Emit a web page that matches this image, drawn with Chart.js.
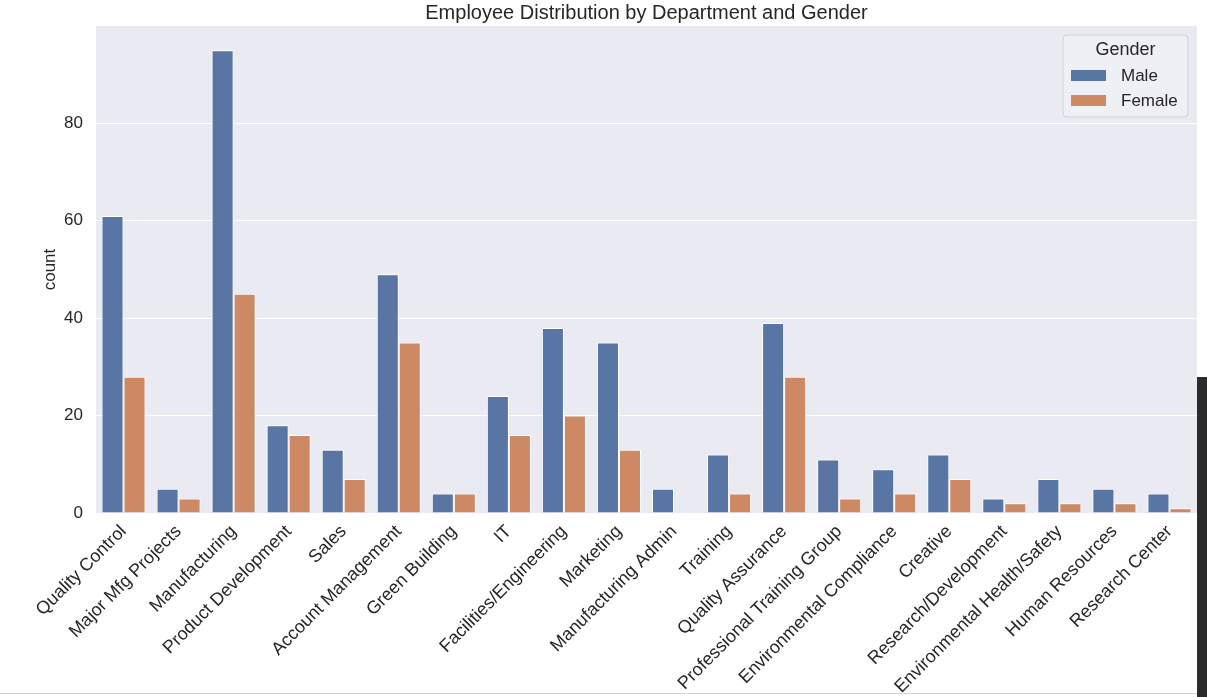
<!DOCTYPE html>
<html>
<head>
<meta charset="utf-8">
<script src="https://cdn.jsdelivr.net/npm/chart.js@4.4.1/dist/chart.umd.min.js"></script>
<style>
  html, body { margin: 0; padding: 0; background: #fff; }
  #wrap { position: relative; width: 1207px; height: 697px; overflow: hidden; }
  #edge { position: absolute; left: 1197px; top: 377px; width: 10px; height: 320px; background: #2b2b2b; }
  #rule { position: absolute; left: 0; top: 693px; width: 1197px; height: 1px; background: #d4d4d4; }
</style>
</head>
<body>
<div id="wrap">
  <canvas id="chart" width="1207" height="697"></canvas>
  <div id="rule"></div>
  <div id="edge"></div>
</div>
<script>
const departments = [
  'Quality Control', 'Major Mfg Projects', 'Manufacturing', 'Product Development', 'Sales',
  'Account Management', 'Green Building', 'IT', 'Facilities/Engineering', 'Marketing',
  'Manufacturing Admin', 'Training', 'Quality Assurance', 'Professional Training Group',
  'Environmental Compliance', 'Creative', 'Research/Development', 'Environmental Health/Safety',
  'Human Resources', 'Research Center'
];
const maleCounts = [61, 5, 95, 18, 13, 49, 4, 24, 38, 35, 5, 12, 39, 11, 9, 12, 3, 7, 5, 4];
const femaleCounts = [28, 3, 45, 16, 7, 35, 4, 16, 20, 13, 0, 4, 28, 3, 4, 7, 2, 2, 2, 1];
const yTicks = [0, 20, 40, 60, 80];

const FONT = '"Liberation Sans", Arial, sans-serif';
const TEXT = '#262626';

// fond gris + titre + legende
const seabornLook = {
  id: 'seabornLook',
  beforeDraw(chart) {
    const { ctx, chartArea: a } = chart;
    ctx.save();
    ctx.fillStyle = '#eaeaf2';
    ctx.fillRect(a.left, a.top, a.right - a.left, a.bottom - a.top);
    ctx.restore();
  },
  afterDraw(chart) {
    const { ctx, chartArea: a } = chart;
    ctx.save();
    ctx.fillStyle = TEXT;
    ctx.font = '20px ' + FONT;
    ctx.textAlign = 'center';
    ctx.textBaseline = 'middle';
    ctx.fillText('Employee Distribution by Department and Gender', (a.left + a.right) / 2, 13);

    const w = 125, h = 82;
    const x = a.right - 9 - w, y = a.top + 9;
    ctx.beginPath();
    ctx.roundRect(x, y, w, h, 4);
    ctx.fillStyle = 'rgba(240,240,246,0.9)';
    ctx.fill();
    ctx.strokeStyle = '#d0d0d8';
    ctx.lineWidth = 1;
    ctx.stroke();

    ctx.fillStyle = TEXT;
    ctx.font = '18px ' + FONT;
    ctx.fillText('Gender', x + w / 2, y + 15);
    ctx.textAlign = 'left';
    ctx.font = '17px ' + FONT;
    chart.data.datasets.forEach((ds, i) => {
      const ry = y + 40 + i * 25;
      ctx.fillStyle = ds.backgroundColor;
      ctx.fillRect(x + 8, ry - 5, 35, 11);
      ctx.fillStyle = TEXT;
      ctx.fillText(ds.label, x + 58, ry + 1);
    });
    ctx.restore();
  }
};

new Chart(document.getElementById('chart'), {
  type: 'bar',
  data: {
    labels: departments,
    datasets: [
      { label: 'Male', data: maleCounts, backgroundColor: '#5875a4', borderColor: '#ffffff', borderWidth: 1 },
      { label: 'Female', data: femaleCounts, backgroundColor: '#cc8963', borderColor: '#ffffff', borderWidth: 1 }
    ]
  },
  options: {
    responsive: false,
    animation: false,
    devicePixelRatio: 1,
    layout: { padding: { top: 26, right: 10, left: 40, bottom: 0 } },
    datasets: { bar: { categoryPercentage: 0.8, barPercentage: 1.0 } },
    plugins: { legend: { display: false }, title: { display: false }, tooltip: { enabled: false } },
    scales: {
      x: {
        grid: { display: false },
        border: { display: false },
        ticks: {
          autoSkip: false,
          maxRotation: 45,
          minRotation: 45,
          color: TEXT,
          font: { family: FONT, size: 18 },
          padding: 0
        },
        afterFit(scale) { scale.height = 184; }
      },
      y: {
        min: 0,
        max: 100,
        grid: { color: (c) => (yTicks.includes(c.tick.value) ? '#ffffff' : 'rgba(0,0,0,0)'), lineWidth: 1, drawTicks: false },
        border: { display: false },
        ticks: {
          stepSize: 20,
          padding: 13,
          color: TEXT,
          font: { family: FONT, size: 17 },
          callback: (v) => (yTicks.includes(v) ? v : '')
        },
        title: { display: true, text: 'count', color: TEXT, font: { family: FONT, size: 17 }, padding: { top: 0, bottom: 8 } },
        afterFit(scale) { scale.width = 56; }
      }
    }
  },
  plugins: [seabornLook]
});
</script>
</body>
</html>
